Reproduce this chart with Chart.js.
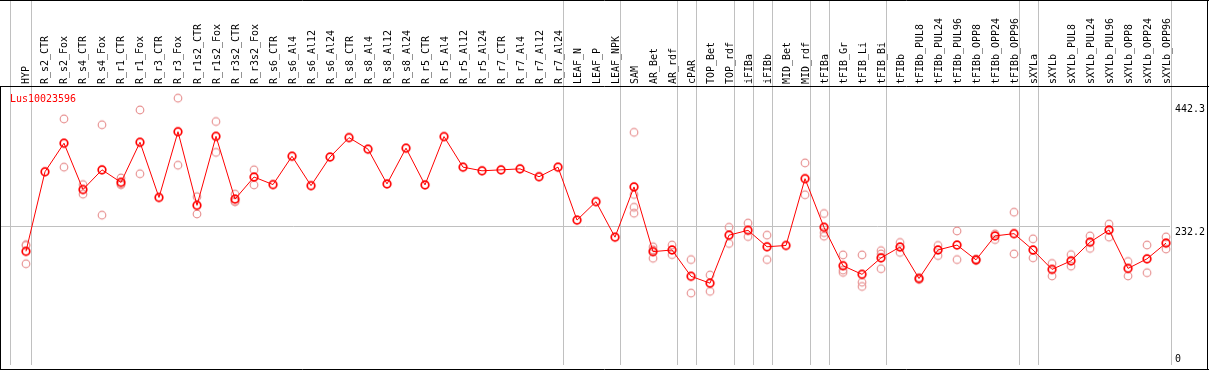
<!DOCTYPE html>
<html>
<head>
<meta charset="utf-8">
<script src="https://cdn.jsdelivr.net/npm/chart.js@4/dist/chart.umd.min.js"></script>
<style>
  body { margin: 0; background: #fff; }
  canvas { display: block; }
</style>
</head>
<body>
<canvas id="grafico" width="1209" height="370"></canvas>
<script>
// datos
const geneName = 'Lus10023596';

const categories = ['HYP', 'R_s2_CTR', 'R_s2_Fox', 'R_s4_CTR', 'R_s4_Fox', 'R_r1_CTR', 'R_r1_Fox',
  'R_r3_CTR', 'R_r3_Fox', 'R_r1s2_CTR', 'R_r1s2_Fox', 'R_r3s2_CTR', 'R_r3s2_Fox',
  'R_s6_CTR', 'R_s6_Al4', 'R_s6_Al12', 'R_s6_Al24', 'R_s8_CTR', 'R_s8_Al4', 'R_s8_Al12', 'R_s8_Al24',
  'R_r5_CTR', 'R_r5_Al4', 'R_r5_Al12', 'R_r5_Al24', 'R_r7_CTR', 'R_r7_Al4', 'R_r7_Al12', 'R_r7_Al24',
  'LEAF_N', 'LEAF_P', 'LEAF_NPK', 'SAM', 'AR_Bet', 'AR_rdf', 'cPAR', 'TOP_Bet', 'TOP_rdf',
  'iFIBa', 'iFIBb', 'MID_Bet', 'MID_rdf', 'tFIBa', 'tFIB_Gr', 'tFIB_Li', 'tFIB_Bi', 'tFIBb',
  'tFIBb_PUL8', 'tFIBb_PUL24', 'tFIBb_PUL96', 'tFIBb_OPP8', 'tFIBb_OPP24', 'tFIBb_OPP96',
  'sXYLa', 'sXYLb', 'sXYLb_PUL8', 'sXYLb_PUL24', 'sXYLb_PUL96', 'sXYLb_OPP8', 'sXYLb_OPP24', 'sXYLb_OPP96'];

const meanValues = [191.2, 321.6, 368.4, 292.5, 324.8, 304.3, 370.0, 279.5, 387.3, 266.6, 379.7, 276.8, 313.0,
  300.6, 347.1, 298.9, 345.8, 377.6, 358.7, 301.7, 360.3, 300.1, 379.3, 329.2, 323.2, 324.8, 326.4, 313.5, 329.2,
  242.4, 272.6, 214.4, 296.8, 190.7, 193.4, 150.3, 139.0, 217.7, 225.7, 198.7, 200.8, 310.3, 230.6,
  167.6, 153.5, 180.5, 198.3, 146.6, 193.4, 201.5, 177.3, 216.5, 220.2,
  193.4, 161.6, 175.6, 206.3, 226.2, 163.2, 178.9, 204.7];

const replicates = [
  [200.8, 202.0, 170.8], [], [408.3, 329.2], [300.6, 284.9], [398.6, 250.5], [311.4, 300.6, 301.0],
  [422.9, 318.3], [], [442.3, 332.4], [280.7, 252.5], [404.0, 353.4], [284.9, 272.6, 273.0], [324.8, 300.1],
  [], [], [], [], [], [], [], [], [], [], [], [], [], [], [], [],
  [], [], [], [386.2, 284.4, 263.4, 253.7], [198.7, 179.8, 193.6], [201.5, 185.8], [177.7, 122.8],
  [152.4, 125.6], [230.6, 204.1], [237.5, 215.4], [217.7, 177.7], [], [336.1, 283.9], [253.2, 221.9, 216.0],
  [185.3, 160.4, 156.7], [185.3, 140.6, 133.6], [192.3, 186.9, 162.7], [205.7, 189.5],
  [148.0, 145.2], [200.8, 184.2], [224.6, 177.7], [178.5, 176.1], [219.8, 210.5], [255.3, 187.0],
  [211.7, 180.5], [171.3, 150.8], [185.8, 166.9], [216.5, 196.0], [235.9, 214.4], [174.5, 150.8],
  [201.5, 156.2], [214.9, 195.0]];

const yTickValues = [442.3, 232.2, 0];
const gridValues = [232.2];
// ultimo indice de cada grupo (linea gris vertical)
const groupEnds = [0, 28, 31, 34, 35, 37, 38, 39, 41, 42, 45, 52, 53, 60];

const FONT = '"DejaVu Sans Mono", "Liberation Mono", monospace';

function makeMarker(color, lw) {
  const c = document.createElement('canvas');
  c.width = 12; c.height = 12;
  const g = c.getContext('2d');
  g.strokeStyle = color;
  g.lineWidth = lw;
  g.beginPath();
  g.arc(6, 6, 3.8, 0, Math.PI * 2);
  g.stroke();
  return c;
}

function squeezed(ctx, txt, x, y, angle, sx) {
  ctx.save();
  ctx.translate(x, y);
  ctx.rotate(angle);
  ctx.scale(sx, 1);
  ctx.fillText(txt, 0, 0);
  ctx.restore();
}

const marcoPlugin = {
  id: 'marco',
  beforeDatasetsDraw(chart) {
    const ctx = chart.ctx;
    const xs = chart.scales.x, ys = chart.scales.y;
    const area = chart.chartArea;
    ctx.save();
    ctx.strokeStyle = '#c0c0c0';
    ctx.lineWidth = 1;
    // lineas horizontales
    gridValues.forEach(v => {
      const y = Math.round(ys.getPixelForValue(v)) + 0.5;
      ctx.beginPath(); ctx.moveTo(1, y); ctx.lineTo(area.right, y); ctx.stroke();
    });
    // separadores de grupos
    const xLeft = Math.round(area.left) + 0.5;
    ctx.beginPath(); ctx.moveTo(xLeft, 0); ctx.lineTo(xLeft, area.bottom); ctx.stroke();
    groupEnds.forEach(i => {
      const x = Math.round(xs.getPixelForValue(i + 0.24)) + 0.5;
      ctx.beginPath(); ctx.moveTo(x, 0); ctx.lineTo(x, area.bottom); ctx.stroke();
    });
    // etiquetas de categorias
    ctx.fillStyle = '#000';
    ctx.font = '11px ' + FONT;
    ctx.textAlign = 'left';
    ctx.textBaseline = 'alphabetic';
    categories.forEach((c, i) => {
      const x = xs.getPixelForValue(i) + 3.5;
      squeezed(ctx, c, x, area.top - 2, -Math.PI / 2, 0.905);
    });
    ctx.restore();
  },
  afterDraw(chart) {
    const ctx = chart.ctx;
    const ys = chart.scales.y;
    const area = chart.chartArea;
    const W = chart.width, H = chart.height;
    ctx.save();
    ctx.font = '11px ' + FONT;
    ctx.textAlign = 'left';
    ctx.textBaseline = 'alphabetic';
    ctx.fillStyle = '#f00';
    squeezed(ctx, geneName, area.left, area.top + 15.5, 0, 0.905);
    ctx.fillStyle = '#000';
    yTickValues.forEach(v => {
      let y = ys.getPixelForValue(v) + 8.3;
      y = Math.max(area.top + 26, Math.min(area.bottom - 3.5, y));
      squeezed(ctx, String(v), area.right + 5, y, 0, 0.905);
    });
    // bordes negros
    ctx.strokeStyle = '#000';
    ctx.lineWidth = 1;
    ctx.beginPath();
    ctx.moveTo(0, 0.5); ctx.lineTo(W, 0.5);
    ctx.moveTo(0, area.top + 0.5); ctx.lineTo(W, area.top + 0.5);
    ctx.moveTo(0, H - 0.5); ctx.lineTo(W, H - 0.5);
    ctx.moveTo(0.5, area.top); ctx.lineTo(0.5, H);
    ctx.moveTo(W - 1.5, 0); ctx.lineTo(W - 1.5, H);
    ctx.stroke();
    ctx.restore();
  }
};

const meanPoints = meanValues.map((v, i) => ({ x: i, y: v }));
const repPoints = [];
replicates.forEach((reps, i) => reps.forEach(v => repPoints.push({ x: i, y: v })));

const ctx = document.getElementById('grafico').getContext('2d');
new Chart(ctx, {
  type: 'line',
  data: {
    datasets: [{
      label: geneName,
      data: meanPoints,
      borderColor: '#ff0000',
      borderWidth: 1,
      pointStyle: makeMarker('#ff0000', 1.7),
      pointRadius: 4,
      tension: 0,
      clip: false
    }, {
      label: 'replicas',
      data: repPoints,
      showLine: false,
      pointStyle: makeMarker('#e89494', 1.2),
      pointRadius: 4,
      clip: false
    }]
  },
  options: {
    responsive: false,
    devicePixelRatio: 1,
    animation: false,
    layout: { padding: { left: 10, right: 39, top: 86, bottom: 1 } },
    scales: {
      x: { type: 'linear', display: false, min: -0.8421, max: 60.2105 },
      y: { type: 'linear', display: false, min: 4.9, max: 462.2 }
    },
    plugins: {
      legend: { display: false },
      tooltip: { enabled: false }
    }
  },
  plugins: [marcoPlugin]
});
</script>
</body>
</html>
